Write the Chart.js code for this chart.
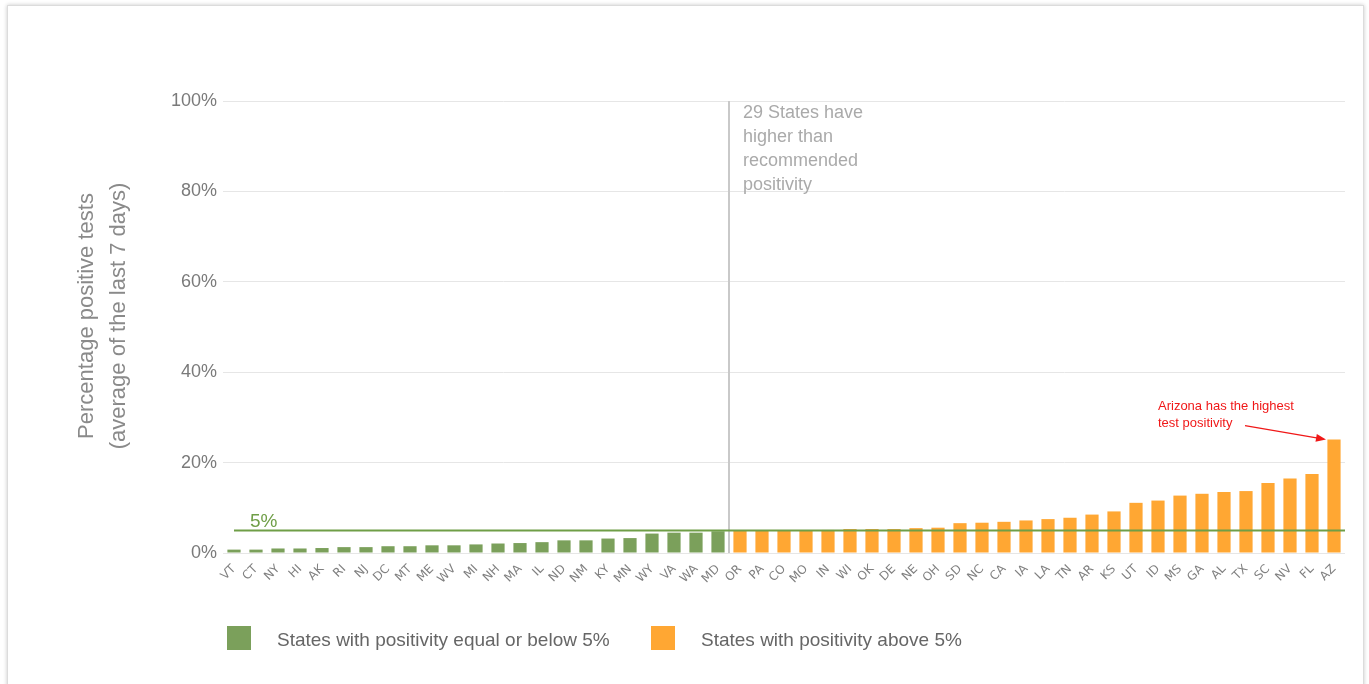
<!DOCTYPE html>
<html>
<head>
<meta charset="utf-8">
<script src="https://cdn.jsdelivr.net/npm/chart.js@4.4.0/dist/chart.umd.min.js"></script>
<style>
  html, body { margin: 0; padding: 0; background: #fff; }
  #wrap { position: absolute; left: 0; top: 0; width: 1369px; height: 684px; }
  #frame { position: absolute; left: 7px; top: 5px; width: 1355px; height: 700px;
           border: 1px solid #dcdcdc; box-shadow: 0 0 4px rgba(0,0,0,0.22); pointer-events: none; }
  canvas { position: absolute; left: 0; top: 0; }
</style>
</head>
<body>
<div id="wrap">
  <div id="frame"></div>
  <canvas id="c" width="1369" height="684"></canvas>
</div>
<script>
// ---- data ----
const greenStates = ['VT','CT','NY','HI','AK','RI','NJ','DC','MT','ME','WV','MI','NH','MA','IL','ND','NM','KY','MN','WY','VA','WA','MD'];
const greenValues = [0.75,0.75,1.0,1.0,1.1,1.3,1.3,1.5,1.5,1.7,1.7,1.9,2.1,2.2,2.4,2.8,2.8,3.2,3.3,4.3,4.5,4.5,4.8];
const orangeStates = ['OR','PA','CO','MO','IN','WI','OK','DE','NE','OH','SD','NC','CA','IA','LA','TN','AR','KS','UT','ID','MS','GA','AL','TX','SC','NV','FL','AZ'];
const orangeValues = [5.0,5.0,5.0,5.0,5.1,5.3,5.3,5.3,5.5,5.6,6.6,6.7,6.9,7.2,7.5,7.8,8.5,9.2,11.1,11.6,12.7,13.1,13.5,13.7,15.5,16.5,17.5,25.1];
const yTicks = [0, 20, 40, 60, 80, 100];
const threshold = 5;
const legendLabels = ['States with positivity equal or below 5%', 'States with positivity above 5%'];
const yTitle = ['Percentage positive tests', '(average of the last 7 days)'];
const noteLines = ['29 States have', 'higher than', 'recommended', 'positivity'];
const azNote = ['Arizona has the highest', 'test positivity'];

const GREEN = '#7ba05b';
const ORANGE = '#ffa733';
const LINEGREEN = '#6f9e47';

const labels = greenStates.concat(orangeStates);
const greenData = greenValues.concat(orangeStates.map(() => null));
const orangeData = greenStates.map(() => null).concat(orangeValues);

const overlay = {
  id: 'overlay',
  afterDatasetsDraw(chart) {
    const { ctx, chartArea, scales: { x, y } } = chart;
    ctx.save();
    // vertical divider
    const xDiv = (x.getPixelForValue(greenStates.length - 1) + x.getPixelForValue(greenStates.length)) / 2;
    ctx.strokeStyle = '#c9c9c9';
    ctx.lineWidth = 2;
    ctx.beginPath();
    ctx.moveTo(xDiv, chartArea.top);
    ctx.lineTo(xDiv, chartArea.bottom);
    ctx.stroke();
    // 5% line
    const y5 = y.getPixelForValue(threshold);
    ctx.strokeStyle = LINEGREEN;
    ctx.lineWidth = 2;
    ctx.beginPath();
    ctx.moveTo(x.getPixelForValue(0), y5);
    ctx.lineTo(chartArea.right, y5);
    ctx.stroke();
    ctx.fillStyle = LINEGREEN;
    ctx.font = '19px "Liberation Sans", Arial, sans-serif';
    ctx.textBaseline = 'alphabetic';
    ctx.textAlign = 'left';
    ctx.fillText('5%', x.getPixelForValue(0) + 16, y5 - 3);
    // note
    ctx.fillStyle = '#aaaaaa';
    ctx.font = '18px "Liberation Sans", Arial, sans-serif';
    noteLines.forEach((t, i) => ctx.fillText(t, xDiv + 14, chartArea.top + 17 + i * 24));
    // AZ note
    ctx.fillStyle = '#f01818';
    ctx.font = '13px "Liberation Sans", Arial, sans-serif';
    const axz = x.getPixelForValue(labels.length - 1);
    const ayz = y.getPixelForValue(orangeValues[orangeValues.length - 1]);
    azNote.forEach((t, i) => ctx.fillText(t, axz - 176, ayz - 30 + i * 17));
    // arrow
    const x0 = axz - 89, y0 = ayz - 14, x1 = axz - 8, y1 = ayz;
    ctx.strokeStyle = '#f01818';
    ctx.lineWidth = 1.2;
    ctx.beginPath();
    ctx.moveTo(x0, y0);
    ctx.lineTo(x1 - 8, y1 - 1.4);
    ctx.stroke();
    const ang = Math.atan2(y1 - y0, x1 - x0);
    ctx.beginPath();
    ctx.moveTo(x1, y1);
    ctx.lineTo(x1 - 10 * Math.cos(ang) + 4 * Math.sin(ang), y1 - 10 * Math.sin(ang) - 4 * Math.cos(ang));
    ctx.lineTo(x1 - 10 * Math.cos(ang) - 4 * Math.sin(ang), y1 - 10 * Math.sin(ang) + 4 * Math.cos(ang));
    ctx.closePath();
    ctx.fillStyle = '#f01818';
    ctx.fill();
    ctx.restore();
  },
  afterDraw(chart) {
    const { ctx, chartArea } = chart;
    ctx.save();
    // y title
    ctx.fillStyle = '#8a8a8a';
    ctx.font = '22px "Liberation Sans", Arial, sans-serif';
    ctx.textAlign = 'center';
    ctx.textBaseline = 'middle';
    const cy = (chartArea.top + chartArea.bottom) / 2 - 11;
    [87, 119].forEach((cx, i) => {
      ctx.save();
      ctx.translate(cx, cy);
      ctx.rotate(-Math.PI / 2);
      ctx.fillText(yTitle[i], 0, 0);
      ctx.restore();
    });
    // legend
    const items = [
      { c: GREEN, t: legendLabels[0], bx: 227, tx: 277 },
      { c: ORANGE, t: legendLabels[1], bx: 651, tx: 701 }
    ];
    ctx.font = '19px "Liberation Sans", Arial, sans-serif';
    ctx.textAlign = 'left';
    ctx.textBaseline = 'alphabetic';
    items.forEach(it => {
      ctx.fillStyle = it.c;
      ctx.fillRect(it.bx, 626, 24, 24);
      ctx.fillStyle = '#666666';
      ctx.fillText(it.t, it.tx, 646);
    });
    ctx.restore();
  }
};

new Chart(document.getElementById('c'), {
  type: 'bar',
  data: {
    labels,
    datasets: [
      { label: legendLabels[0], data: greenData, backgroundColor: GREEN, barPercentage: 0.6, categoryPercentage: 1.0 },
      { label: legendLabels[1], data: orangeData, backgroundColor: ORANGE, barPercentage: 0.6, categoryPercentage: 1.0 }
    ]
  },
  options: {
    responsive: false,
    animation: false,
    devicePixelRatio: 1,
    layout: { padding: { top: 101, right: 24, left: 0, bottom: 0 } },
    plugins: { legend: { display: false }, tooltip: { enabled: false } },
    scales: {
      x: {
        stacked: true,
        grid: { display: false, drawTicks: false },
        border: { display: false },
        ticks: {
          autoSkip: false, minRotation: 45, maxRotation: 45, padding: 9,
          color: '#808080', font: { family: '"DejaVu Sans", Verdana, sans-serif', size: 12 }
        },
        afterFit(s) { s.height = 131; }
      },
      y: {
        min: 0, max: 100,
        afterBuildTicks(s) { s.ticks = yTicks.map(v => ({ value: v })); },
        grid: { color: '#e6e6e6', drawTicks: false, lineWidth: 1 },
        border: { display: false },
        ticks: {
          padding: 6,
          color: '#7a7a7a',
          font: { family: '"Liberation Sans", Arial, sans-serif', size: 18 },
          callback: v => v + '%'
        },
        afterFit(s) { s.width = 223; }
      }
    }
  },
  plugins: [overlay]
});
</script>
</body>
</html>
